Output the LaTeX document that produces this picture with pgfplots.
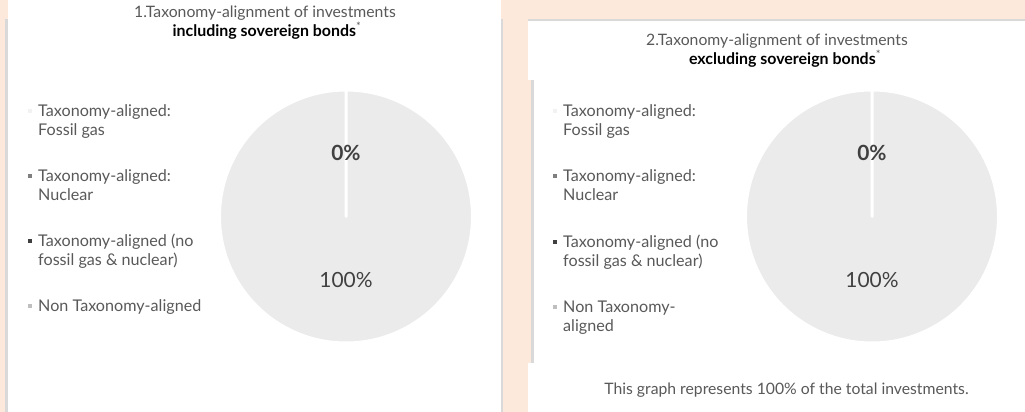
\documentclass[border=0pt]{standalone}
\usepackage{pgfplots}
\pgfplotsset{compat=1.18}
\usepackage{pgfplotstable}
\usepackage{fontspec}
\setmainfont{Lato}
\definecolor{peach}{HTML}{FCE9DB}
\definecolor{piegray}{HTML}{EBEBEB}
\definecolor{txtgray}{HTML}{595959}
\definecolor{lblgray}{HTML}{404040}
\definecolor{edgegray}{HTML}{D9D9D9}
\definecolor{mkA}{HTML}{F2F2F2}
\definecolor{mkB}{HTML}{7F7F7F}
\definecolor{mkC}{HTML}{404040}
\definecolor{mkD}{HTML}{BFBFBF}

% Panel 1: including sovereign bonds (%)
\pgfplotstableread{
slice value
gas 0
nuclear 0
aligned 0
non 100
}\incl
% Panel 2: excluding sovereign bonds (%)
\pgfplotstableread{
slice value
gas 0
nuclear 0
aligned 0
non 100
}\excl

\newcommand\legfont{\fontsize{16.2}{18.8}\selectfont}
\newcommand\titfont{\fontsize{15.8}{19}\selectfont}
\newcommand\titbfont{\fontsize{16}{19}\selectfont\bfseries}
\newcommand\lblfont{\fontsize{21}{24}\selectfont}

\begin{document}
\begin{tikzpicture}
% ---------- backgrounds (pixel coordinates, y downwards) ----------
\begin{scope}[x=1bp,y=-1bp,shift={(0,412bp)}]
  \fill[peach] (0,0) rectangle (1025,412);
  % left panel
  \fill[edgegray] (5.5,19) rectangle (503,412);
  \fill[white] (8,0) rectangle (501,412);
  % right panel
  \fill[edgegray] (528,19) rectangle (1025,412);
  \fill[white] (528,21) rectangle (1025,412);
  \fill[peach] (528,80) rectangle (531,363);
  \fill[edgegray] (531,80) rectangle (533.5,363);
\end{scope}

% ---------- pies ----------
\pgfplotstablegetelem{3}{value}\of\incl
\pgfmathsetmacro\startA{90-3.6*\pgfplotsretval}
\begin{axis}[at={(346bp,195.5bp)}, anchor=origin, hide axis, scale only axis,
  width=253bp, height=253bp, xmin=-1, xmax=1, ymin=-1, ymax=1, clip=false]
  \addplot[fill=piegray, draw=white, line width=3bp, line join=round,
    domain=\startA:90, samples=361, variable=\t]
    ({cos(\t)},{sin(\t)}) -- (axis cs:0,0) -- cycle;
\end{axis}

\pgfplotstablegetelem{3}{value}\of\excl
\pgfmathsetmacro\startB{90-3.6*\pgfplotsretval}
\begin{axis}[at={(872bp,195.5bp)}, anchor=origin, hide axis, scale only axis,
  width=253bp, height=253bp, xmin=-1, xmax=1, ymin=-1, ymax=1, clip=false]
  \addplot[fill=piegray, draw=white, line width=3bp, line join=round,
    domain=\startB:90, samples=361, variable=\t]
    ({cos(\t)},{sin(\t)}) -- (axis cs:0,0) -- cycle;
\end{axis}

% ---------- texts ----------
\begin{scope}[x=1bp,y=-1bp,shift={(0,412bp)}]
  % titles
  \node[anchor=base, text=txtgray, font=\titfont, inner sep=0] at (265,18) {1.Taxonomy-alignment of investments};
  \node[anchor=base, text=black, font=\titbfont, inner sep=0] at (267,37) {including sovereign bonds\textsuperscript{\mdseries\color{txtgray}*}};
  \node[anchor=base, text=txtgray, font=\titfont, inner sep=0] at (777,46) {2.Taxonomy-alignment of investments};
  \node[anchor=base, text=black, font=\titbfont, inner sep=0] at (785,65) {excluding sovereign bonds\textsuperscript{\mdseries\color{txtgray}*}};

  % pie labels
  \node[anchor=base, text=lblgray, font=\lblfont\bfseries, inner sep=0] at (346,161) {0\%};
  \node[anchor=base, text=lblgray, font=\lblfont, inner sep=0] at (346,288) {100\%};
  \node[anchor=base, text=lblgray, font=\lblfont\bfseries, inner sep=0] at (872,161) {0\%};
  \node[anchor=base, text=lblgray, font=\lblfont, inner sep=0] at (872,288) {100\%};

  % legend 1
  \foreach \yy/\cc in {117/mkA,182/mkB,247/mkC,312/mkD}
    \fill[\cc] (28,\yy-7.5) rectangle (32,\yy-3.5);
  \node[anchor=base west, text=txtgray, font=\legfont, inner sep=0] at (38,117) {\begin{tabular}[t]{@{}l@{}}Taxonomy-aligned:\\Fossil gas\end{tabular}};
  \node[anchor=base west, text=txtgray, font=\legfont, inner sep=0] at (38,182) {\begin{tabular}[t]{@{}l@{}}Taxonomy-aligned:\\Nuclear\end{tabular}};
  \node[anchor=base west, text=txtgray, font=\legfont, inner sep=0] at (38,247) {\begin{tabular}[t]{@{}l@{}}Taxonomy-aligned (no\\fossil gas \& nuclear)\end{tabular}};
  \node[anchor=base west, text=txtgray, font=\legfont, inner sep=0] at (38,312) {Non Taxonomy-aligned};

  % legend 2
  \foreach \yy/\cc in {117/mkA,182/mkB,248/mkC,313/mkD}
    \fill[\cc] (553,\yy-7.5) rectangle (557,\yy-3.5);
  \node[anchor=base west, text=txtgray, font=\legfont, inner sep=0] at (563,117) {\begin{tabular}[t]{@{}l@{}}Taxonomy-aligned:\\Fossil gas\end{tabular}};
  \node[anchor=base west, text=txtgray, font=\legfont, inner sep=0] at (563,182) {\begin{tabular}[t]{@{}l@{}}Taxonomy-aligned:\\Nuclear\end{tabular}};
  \node[anchor=base west, text=txtgray, font=\legfont, inner sep=0] at (563,248) {\begin{tabular}[t]{@{}l@{}}Taxonomy-aligned (no\\fossil gas \& nuclear)\end{tabular}};
  \node[anchor=base west, text=txtgray, font=\legfont, inner sep=0] at (563,313) {\begin{tabular}[t]{@{}l@{}}Non Taxonomy-\\aligned\end{tabular}};

  % footnote
  \node[anchor=base, text=txtgray, font=\fontsize{15.8}{18}\selectfont, inner sep=0] at (786.5,395) {This graph represents 100\% of the total investments.};
\end{scope}

\pgfresetboundingbox
\path[use as bounding box] (0,0) rectangle (1025bp,412bp);
\end{tikzpicture}
\end{document}
